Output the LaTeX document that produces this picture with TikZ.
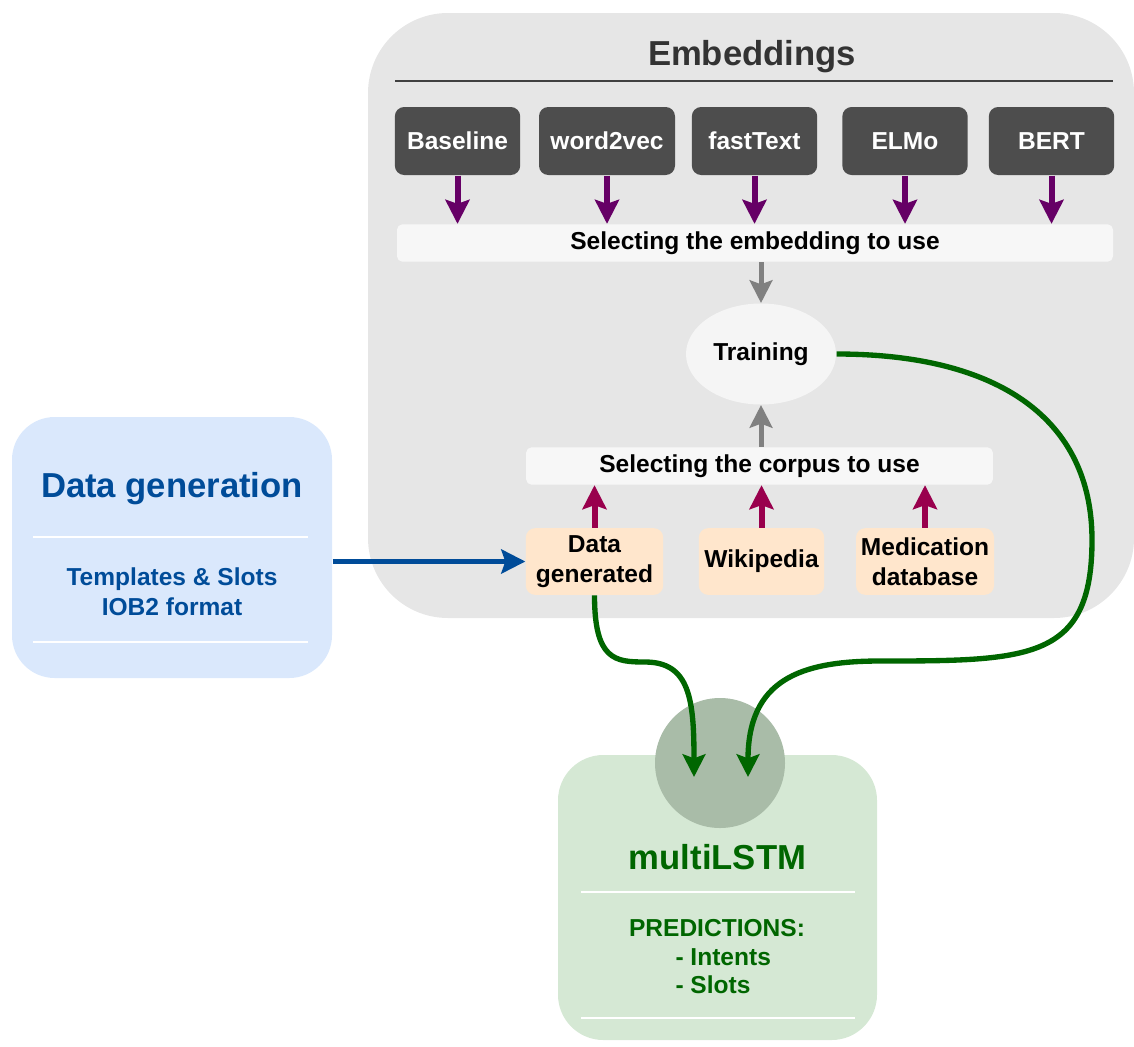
\documentclass[tikz,border=0pt]{standalone}
\usepackage{fontspec}
\setmainfont{Liberation Sans}
\usetikzlibrary{arrows.meta,shapes.geometric}

\definecolor{panelgray}{HTML}{E6E6E6}
\definecolor{titlegray}{HTML}{333333}
\definecolor{rulegray}{HTML}{404040}
\definecolor{embdark}{HTML}{4D4D4D}
\definecolor{barwhite}{HTML}{F7F7F7}
\definecolor{embpurple}{HTML}{660066}
\definecolor{trainfill}{HTML}{F5F5F5}
\definecolor{arrowgray}{HTML}{808080}
\definecolor{peach}{HTML}{FFE6CC}
\definecolor{corpmaroon}{HTML}{99004D}
\definecolor{bluefill}{HTML}{DAE8FC}
\definecolor{bluetext}{HTML}{004C99}
\definecolor{greenfill}{HTML}{D5E8D4}
\definecolor{hubgreen}{HTML}{A9BCA8}
\definecolor{darkgreen}{HTML}{006600}

\newcommand{\boxfont}{\fontsize{18.4}{22.5}\selectfont\bfseries}
\newcommand{\headfont}{\fontsize{26}{30}\selectfont\bfseries}

\tikzset{every picture/.style={line width=0.75pt}}
\tikzset{
  embbox/.style={fill=embdark, rounded corners=7pt, text=white, font=\boxfont, minimum width=94pt, minimum height=51pt, inner sep=0pt},
  selbar/.style={fill=barwhite, rounded corners=4pt, font=\boxfont, minimum height=28pt, inner sep=0pt},
  srcbox/.style={fill=peach, rounded corners=7pt, font=\boxfont, align=center, minimum height=50pt, inner sep=0pt},
  purplearrow/.style={draw=embpurple, line width=4.5pt, -{Stealth[length=18pt,width=18pt,inset=3pt]}},
  maroonarrow/.style={draw=corpmaroon, line width=4.5pt, -{Stealth[length=18pt,width=18pt,inset=3pt]}},
  grayarrow/.style={draw=arrowgray, line width=3.75pt, -{Stealth[length=17pt,width=17pt,inset=3pt]}},
  bluearrow/.style={draw=bluetext, line width=4pt, -{Stealth[length=18pt,width=18pt,inset=3pt]}},
  greenarrow/.style={draw=darkgreen, line width=4pt, -{Stealth[length=17pt,width=17pt,inset=3pt]}},
  whiterule/.style={draw=white, line width=1.2pt}
}

\begin{document}
\begin{tikzpicture}[x=0.75pt,y=0.75pt,yscale=-1,xscale=1]
	\useasboundingbox (0,0) rectangle (1134,1046);
	
	%Shape: Rounded Rect [embeddings panel]
	\draw [draw=none, fill=panelgray, rounded corners=60pt] (368,13) rectangle (1134,618) ;
	% Text Node
	\node (embtitle) [anchor=base, text=titlegray, font=\headfont] at (752,65) {Embeddings};
	%Straight Lines [title rule]
	\draw [draw=rulegray, line width=1.2pt] (395,81) -- (1113,81) ;
	
	% embedding boxes
	\node (base) [embbox] at (457.5,141) {Baseline};
	\node (w2v) [embbox, minimum width=102pt] at (607,141) {word2vec};
	\node (ft) [embbox] at (754.5,141) {fastText};
	\node (elmo) [embbox] at (905,141) {ELMo};
	\node (bert) [embbox] at (1051.5,141) {BERT};
	
	% Text Node
	\node (selemb) [selbar, minimum width=537pt] at (755,243) {Selecting the embedding to use};
	\foreach \e in {base,w2v,ft,elmo,bert}
		\draw [purplearrow] (\e.south) -- (\e.south |- selemb.north) ;
	
	%Shape: Ellipse [training]
	\node (train) [ellipse, fill=trainfill, font=\boxfont, minimum width=112.5pt, minimum height=75.75pt, inner sep=0pt] at (761,354) {Training};
	\draw [grayarrow] (train.north |- selemb.south) -- (train.north) ;
	
	% Text Node
	\node (selcorp) [selbar, minimum width=350pt] at (759.5,466) {Selecting the corpus to use};
	\draw [grayarrow] (train.south |- selcorp.north) -- (train.south) ;
	
	% corpus boxes
	\node (dgen) [srcbox, minimum width=103pt] at (594.5,561.5) {Data\\generated};
	\node (wiki) [srcbox, minimum width=94pt] at (761.5,561.5) {Wikipedia};
	\node (med) [srcbox, minimum width=103.5pt] at (925,561.5) {Medication\\database};
	\foreach \s in {dgen,wiki,med}
		\draw [maroonarrow] (\s.north) -- (\s.north |- selcorp.south) ;
	
	%Shape: Rounded Rect [data generation]
	\node (datagen) [fill=bluefill, rounded corners=32pt, minimum width=240pt, minimum height=195.75pt, inner sep=0pt] at (172,547.5) {};
	% Text Node
	\node (dgtitle) [anchor=base, text=bluetext, font=\headfont] at (172,497) {Data generation};
	\draw [whiterule] (33,537) -- (308,537) ;
	% Text Node
	\node (dgtext) [text=bluetext, font=\boxfont, align=center] at (172,592) {Templates \& Slots\\IOB2 format};
	\draw [whiterule] (33,642) -- (308,642) ;
	\draw [bluearrow] (datagen.east |- dgen.west) -- (dgen.west) ;
	
	%Shape: Rounded Rect [multiLSTM]
	\node (multi) [fill=greenfill, rounded corners=34pt, minimum width=239.25pt, minimum height=213.75pt, inner sep=0pt] at (717.5,897.5) {};
	%Shape: Circle
	\node (hub) [circle, fill=hubgreen, minimum size=97.5pt, inner sep=0pt] at (720,763) {};
	\coordinate (inL) at (694,777);
	\coordinate (inR) at (748,777);
	% Text Node
	\node (mtitle) [anchor=base, text=darkgreen, font=\headfont] at (717.5,869) {multiLSTM};
	\draw [whiterule] (581,892) -- (855,892) ;
	\node (pred) [anchor=base, text=darkgreen, font=\boxfont] at (717,936) {PREDICTIONS:};
	\node (intents) [anchor=base west, text=darkgreen, font=\boxfont, inner xsep=0pt] at (675,965) {- Intents};
	\node (slots) [anchor=base west, text=darkgreen, font=\boxfont, inner xsep=0pt] at (675,993) {- Slots};
	\draw [whiterule] (581,1018) -- (855,1018) ;
	
	%Curve Lines [to multiLSTM]
	\draw [greenarrow] (dgen.south) .. controls (594.5,660) and (615,662) .. (645,662) .. controls (690,662) and (694,700) .. (inL) ;
	\draw [greenarrow] (train.east) .. controls (1000,354) and (1092,420) .. (1092,540) .. controls (1092,660) and (1030,661) .. (880,661) .. controls (800,661) and (748,680) .. (inR) ;
	
\end{tikzpicture}
\end{document}
